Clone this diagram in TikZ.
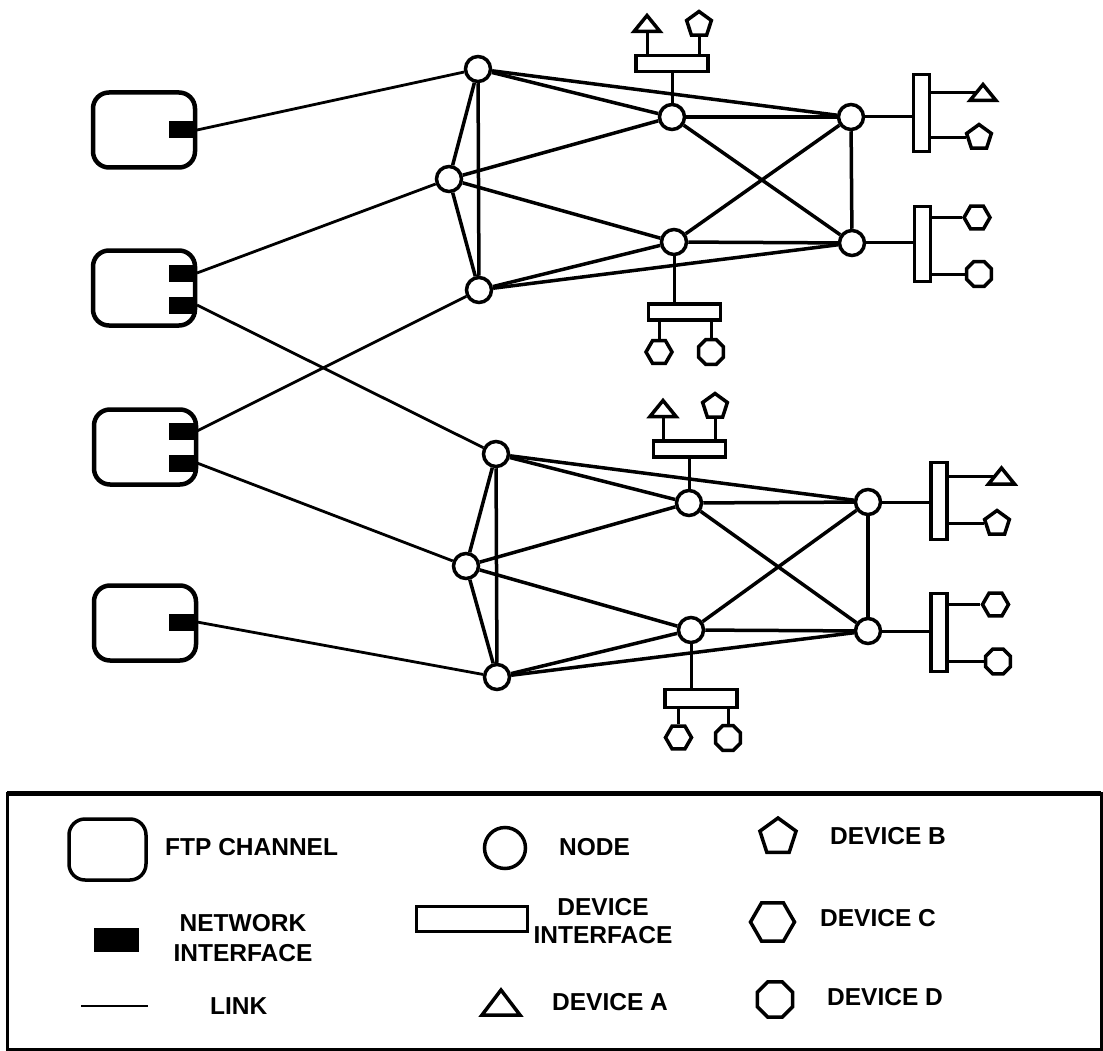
\documentclass[tikz,border=0pt]{standalone}
\usepackage{fontspec}
\setmainfont{Liberation Sans}
\usetikzlibrary{shapes.geometric}
\newcommand\trishape[3]{\draw[line width=3.5pt,fill=white] ([shift={(-#2,#3)}]#1) -- ([shift={(0,-#3)}]#1) -- ([shift={(#2,#3)}]#1) -- cycle;}
\begin{document}
\begin{tikzpicture}[x=1pt,y=-1pt,
  chan/.style={draw,line width=4.5pt,rounded corners=16pt,minimum width=102pt,minimum height=75pt,inner sep=0pt},
  netif/.style={fill=black,minimum width=28pt,minimum height=17pt,inner sep=0pt,anchor=east},
  nd/.style={circle,draw,line width=3.5pt,minimum size=25pt,inner sep=0pt,fill=white},
  hbox/.style={draw,line width=3.5pt,minimum width=72pt,minimum height=16pt,inner sep=0pt,fill=white},
  vbox/.style={draw,line width=3.5pt,minimum width=16pt,minimum height=77pt,inner sep=0pt,fill=white},
  devB/.style={regular polygon,regular polygon sides=5,draw,line width=3.5pt,minimum size=26pt,inner sep=0pt,fill=white},
  devC/.style={regular polygon,regular polygon sides=6,draw,line width=3.5pt,minimum size=26pt,inner sep=0pt,fill=white},
  devD/.style={regular polygon,regular polygon sides=8,draw,line width=3.5pt,minimum size=27pt,inner sep=0pt,fill=white},
  lnk/.style={line width=3.5pt},
  chlnk/.style={line width=2.8pt},
  stem/.style={line width=3pt},
  lbl/.style={font=\bfseries\fontsize{24.5}{30}\selectfont,inner sep=0pt},
]
\useasboundingbox (0,0) rectangle (1103,1051);

% FTP channels and network interfaces
\node[chan] (C1) at (144,130) {};
\node[chan] (C2) at (144,288) {};
\node[chan] (C3) at (145,447) {};
\node[chan] (C4) at (145,623) {};
\node[netif] (C1a) at (197,130) {};
\node[netif] (C2a) at (197,273) {};
\node[netif] (C2b) at (197,305) {};
\node[netif] (C3a) at (197,431) {};
\node[netif] (C3b) at (197,463) {};
\node[netif] (C4a) at (197,622) {};

% top cluster nodes
\node[nd] (N1) at (478,69) {};
\node[nd] (N2) at (449,179) {};
\node[nd] (N3) at (479,290) {};
\node[nd] (N4) at (672,117) {};
\node[nd] (N5) at (674,242) {};
\node[nd] (N6) at (851,117) {};
\node[nd] (N7) at (852,243) {};
% bottom cluster nodes
\node[nd] (M1) at (496,454) {};
\node[nd] (M2) at (466,566) {};
\node[nd] (M3) at (497,677) {};
\node[nd] (M4) at (689,503) {};
\node[nd] (M5) at (691,630) {};
\node[nd] (M6) at (868,502) {};
\node[nd] (M7) at (868,631) {};

% device interfaces
\node[hbox] (T1) at (672,63.5) {};
\node[hbox] (T2) at (684.5,312) {};
\node[vbox] (R1) at (921.5,113) {};
\node[vbox,minimum height=75pt] (R2) at (922.5,244) {};
\node[hbox] (T3) at (689.5,449) {};
\node[hbox,minimum height=18pt] (T4) at (701,698.5) {};
\node[vbox] (R3) at (939,501) {};
\node[vbox,minimum height=78pt] (R4) at (939,632.5) {};

% devices
\coordinate (A1) at (647,23.5);
\node[devB] (B1) at (699,24.5) {};
\node[devC] (CC1) at (659,352) {};
\node[devD] (DD1) at (711,352) {};
\coordinate (A2) at (983,92.5);
\node[devB] (B2) at (979,137.5) {};
\node[devC] (CC2) at (977,217.5) {};
\node[devD] (DD2) at (979,274) {};
\coordinate (A3) at (663,408.5);
\node[devB] (B3) at (715,406.5) {};
\node[devC] (CC3) at (678.5,737.5) {};
\node[devD] (DD3) at (728,738) {};
\coordinate (A4) at (1001.5,476);
\node[devB] (B4) at (997,523.5) {};
\node[devC] (CC4) at (995.5,604.5) {};
\node[devD] (DD4) at (998,661.5) {};

% links from channels
\draw[chlnk] (C1a.east) -- (N1);
\draw[chlnk] (C2a.east) -- (N2);
\draw[chlnk] (C2b.east) -- (M1);
\draw[chlnk] (C3a.east) -- (N3);
\draw[chlnk] (C3b.east) -- (M2);
\draw[chlnk] (C4a.east) -- (M3);

% links inside clusters
\foreach \a/\b in {1/2,1/3,2/3,1/4,1/6,2/4,2/5,3/5,3/7,4/6,4/7,5/6,5/7,6/7}{
  \draw[lnk] (N\a) -- (N\b);
  \draw[lnk] (M\a) -- (M\b);
}

% node to device interface
\draw[stem] (N4) -- (N4 |- T1.south);
\draw[stem] (N5) -- (N5 |- T2.north);
\draw[stem] (N6) -- (N6 -| R1.west);
\draw[stem] (N7) -- (N7 -| R2.west);
\draw[stem] (M4) -- (M4 |- T3.south);
\draw[stem] (M5) -- (M5 |- T4.north);
\draw[stem] (M6) -- (M6 -| R3.west);
\draw[stem] (M7) -- (M7 -| R4.west);

% device interface to devices
\draw[stem] (A1 |- T1.north) -- (A1);
\draw[stem] (B1 |- T1.north) -- (B1);
\draw[stem] (CC1 |- T2.south) -- (CC1);
\draw[stem] (DD1 |- T2.south) -- (DD1);
\draw[stem] (R1.east |- A2) -- (A2);
\draw[stem] (R1.east |- B2) -- (B2);
\draw[stem] (R2.east |- CC2) -- (CC2);
\draw[stem] (R2.east |- DD2) -- (DD2);
\draw[stem] (A3 |- T3.north) -- (A3);
\draw[stem] (B3 |- T3.north) -- (B3);
\draw[stem] (CC3 |- T4.south) -- (CC3);
\draw[stem] (DD3 |- T4.south) -- (DD3);
\draw[stem] (R3.east |- A4) -- (A4);
\draw[stem] (R3.east |- B4) -- (B4);
\draw[stem] (R4.east |- CC4) -- (CC4);
\draw[stem] (R4.east |- DD4) -- (DD4);

\trishape{A1}{13}{8}
\trishape{A2}{13}{8}
\trishape{A3}{13}{8}
\trishape{A4}{13}{8}

% legend
\draw[line width=3pt] (7,793) rectangle (1101,1049);
\draw[line width=5pt] (7,793) -- (1101,793);
\node[chan,line width=3.5pt,minimum width=77pt,minimum height=61pt] (LF) at (107.5,849.5) {};
\node[lbl,anchor=west] (LFt) at (165,847) {FTP CHANNEL};
\node[nd,minimum size=41pt] (LN) at (505,848) {};
\node[lbl,anchor=west] (LNt) at (559,847) {NODE};
\node[devB,minimum size=38pt] (LB) at (778,837) {};
\node[lbl,anchor=west] (LBt) at (830,836) {DEVICE B};
\node[fill=black,minimum width=45pt,minimum height=24pt,inner sep=0pt] (LI) at (116.5,940) {};
\node[lbl,align=center] (LIt) at (243,938) {NETWORK\\INTERFACE};
\node[hbox,minimum width=111pt,minimum height=25pt] (LDI) at (472,919) {};
\node[lbl,align=center] (LDIt) at (603,921) {DEVICE\\[-2pt]INTERFACE};
\node[devC,minimum size=44pt] (LC) at (772.5,922) {};
\node[lbl,anchor=west] (LCt) at (820,918) {DEVICE C};
\coordinate (LL1) at (81,1006);
\coordinate (LL2) at (148,1006);
\draw[line width=2.5pt] (LL1) -- (LL2);
\node[lbl,anchor=west] (LLt) at (210,1006) {LINK};
\coordinate (LA) at (501,1002.5);
\trishape{LA}{19}{12.5}
\node[lbl,anchor=west] (LAt) at (552,1002) {DEVICE A};
\node[devD,minimum size=38pt] (LD) at (775,999.5) {};
\node[lbl,anchor=west] (LDt) at (827,997) {DEVICE D};
\end{tikzpicture}
\end{document}
